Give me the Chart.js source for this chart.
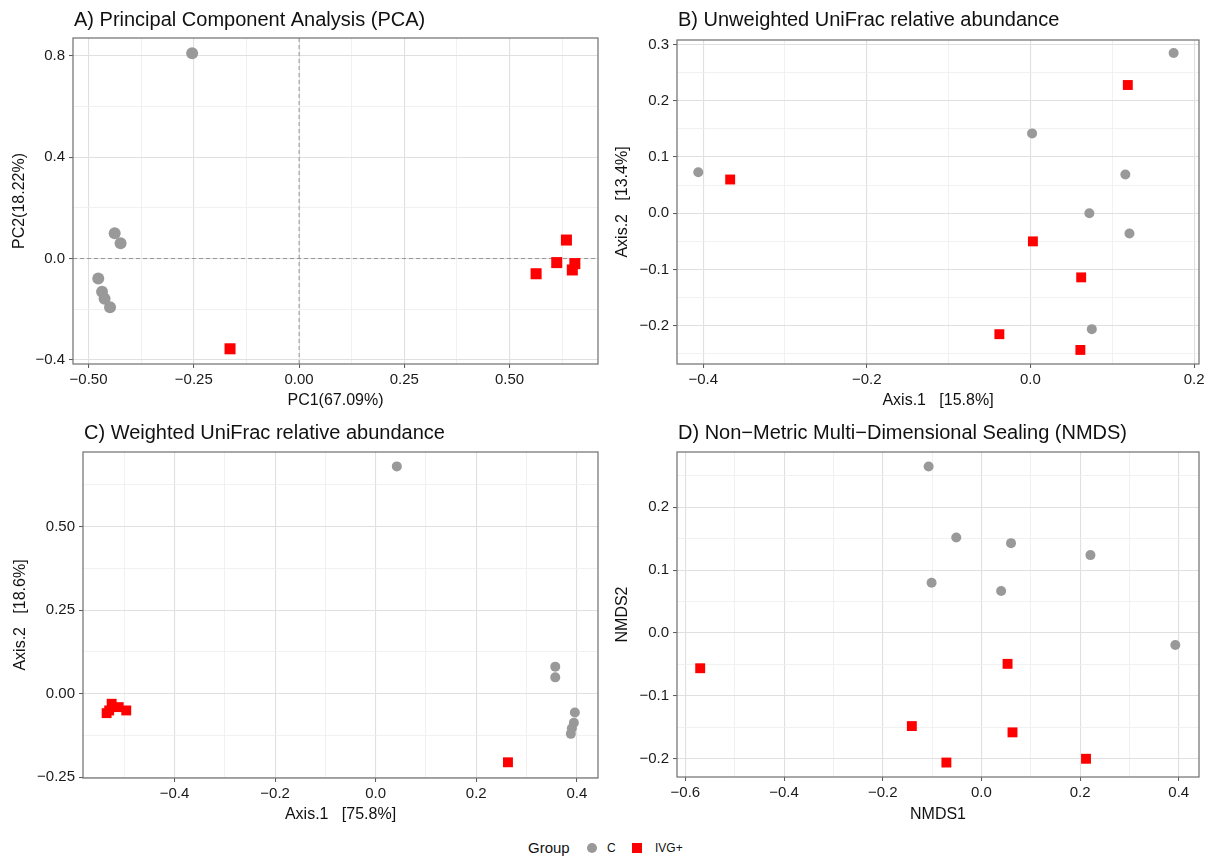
<!DOCTYPE html>
<html>
<head>
<meta charset="utf-8">
<title>Ordination of C and IVG+ samples</title>
<script src="https://cdn.jsdelivr.net/npm/chart.js@4.4.0/dist/chart.umd.min.js"></script>
<style>
  html, body { margin: 0; padding: 0; background: #fff; }
  body { width: 1215px; height: 859px; position: relative; overflow: hidden;
         font-family: "Liberation Sans", Arial, Helvetica, sans-serif; color: #111; }
  canvas { position: absolute; }
  .lg { position: absolute; white-space: nowrap; line-height: 1; }
  .lg-title { font-size: 15px; left: 528px; top: 840px; }
  .lg-text { font-size: 12px; top: 842px; }
  .lg-dot { position: absolute; width: 10px; height: 10px; border-radius: 50%; background: #999; left: 587px; top: 843px; }
  .lg-sq { position: absolute; width: 10px; height: 10px; background: red; left: 632px; top: 843px; }
</style>
</head>
<body>
<canvas id="pca" width="607" height="418" style="left:0;top:0"></canvas>
<canvas id="unweighted" width="608" height="418" style="left:607px;top:0"></canvas>
<canvas id="weighted" width="607" height="418" style="left:0;top:420px"></canvas>
<canvas id="nmds" width="608" height="418" style="left:607px;top:420px"></canvas>

<span class="lg lg-title">Group</span>
<span class="lg-dot"></span>
<span class="lg lg-text" style="left:607px">C</span>
<span class="lg-sq"></span>
<span class="lg lg-text" style="left:655px">IVG+</span>

<script>
/* ---- sample coordinates, [x, y] per sample ---- */

// A) PCA
const pcaC   = [[-0.254, 0.810], [-0.438, 0.100], [-0.424, 0.060], [-0.477, -0.079],
                [-0.468, -0.131], [-0.462, -0.159], [-0.449, -0.192]];
const pcaIVG = [[-0.164, -0.356], [0.635, 0.073], [0.612, -0.016], [0.563, -0.060],
                [0.655, -0.020], [0.649, -0.045]];
const pcaXTicks = [-0.5, -0.25, 0, 0.25, 0.5];
const pcaYTicks = [-0.4, 0, 0.4, 0.8];

// B) unweighted UniFrac
const uwC   = [[0.175, 0.285], [0.002, 0.142], [-0.406, 0.073], [0.116, 0.069],
               [0.072, 0.000], [0.121, -0.036], [0.075, -0.206]];
const uwIVG = [[0.119, 0.228], [-0.367, 0.060], [0.003, -0.050], [0.062, -0.114],
               [-0.038, -0.215], [0.061, -0.243]];
const uwXTicks = [-0.4, -0.2, 0, 0.2];
const uwYTicks = [-0.2, -0.1, 0, 0.1, 0.2, 0.3];

// C) weighted UniFrac
const wC   = [[0.042, 0.680], [0.357, 0.081], [0.357, 0.049], [0.396, -0.056],
              [0.394, -0.087], [0.390, -0.103], [0.388, -0.120]];
const wIVG = [[0.263, -0.205], [-0.535, -0.058], [-0.530, -0.050], [-0.525, -0.030],
              [-0.511, -0.040], [-0.496, -0.050]];
const wXTicks = [-0.4, -0.2, 0, 0.2, 0.4];
const wYTicks = [-0.25, 0, 0.25, 0.5];

// D) NMDS
const nmdsC   = [[-0.107, 0.265], [-0.051, 0.152], [0.060, 0.143], [0.221, 0.124],
                 [-0.101, 0.080], [0.040, 0.067], [0.393, -0.019]];
const nmdsIVG = [[-0.570, -0.056], [0.053, -0.049], [-0.141, -0.148], [0.063, -0.158],
                 [-0.071, -0.206], [0.212, -0.200]];
const nmdsXTicks = [-0.6, -0.4, -0.2, 0, 0.2, 0.4];
const nmdsYTicks = [-0.2, -0.1, 0, 0.1, 0.2];

const FONT = '"Liberation Sans", Arial, Helvetica, sans-serif';
const GREY = '#999999';
const RED = '#ff0000';

function fmt(v, d) {
    const s = v.toFixed(d);
    return v < 0 ? '\u2212' + s.slice(1) : s;
}

// minor grid lines sit halfway between the labelled ones
function minorTicks(major, min, max) {
    const step = major[1] - major[0];
    const out = [];
    for (let i = -1; i < major.length; i++) {
        const v = (i < 0 ? major[0] - step : major[i]) + step / 2;
        if (v > min && v < max) out.push(v);
    }
    return out;
}

function axis(kind, p) {
    const major = p.ticks;
    const isMajor = v => major.some(t => Math.abs(t - v) < 1e-9);
    const all = major.concat(minorTicks(major, p.min, p.max)).sort((a, b) => a - b);
    return {
        type: 'linear',
        position: kind === 'x' ? 'bottom' : 'left',
        min: p.min,
        max: p.max,
        afterBuildTicks: s => { s.ticks = all.map(v => ({ value: v })); },
        afterFit: s => { if (kind === 'x') s.height = p.fit; else s.width = p.fit; },
        border: { display: false },
        grid: {
            color: c => (c.tick && isMajor(c.tick.value)) ? '#e0e0e0' : '#ededed',
            lineWidth: c => (c.tick && isMajor(c.tick.value)) ? 1.1 : 0.8,
            tickLength: 4,
            tickColor: c => (c.tick && isMajor(c.tick.value)) ? '#555' : 'rgba(0,0,0,0)',
            tickWidth: 1
        },
        ticks: {
            autoSkip: false,
            maxRotation: 0,
            padding: kind === 'x' ? 3 : 4,
            color: '#1a1a1a',
            font: { family: FONT, size: 15 },
            callback: v => isMajor(v) ? fmt(v, p.dec) : ''
        },
        title: {
            display: true,
            text: p.title,
            color: '#111',
            font: { family: FONT, size: 16 },
            padding: kind === 'x' ? { top: 0, bottom: p.titlePad } : { top: p.titlePad, bottom: 0 }
        }
    };
}

// panel border all the way round
const framePlugin = {
    id: 'frame',
    afterDraw(chart) {
        const { ctx, chartArea: a } = chart;
        ctx.save();
        ctx.strokeStyle = '#6e6e6e';
        ctx.lineWidth = 1.2;
        ctx.strokeRect(a.left, a.top, a.right - a.left, a.bottom - a.top);
        ctx.restore();
    }
};

// panel heading, left-aligned with the plotting region
const headingPlugin = {
    id: 'heading',
    afterDraw(chart, args, opts) {
        const { ctx, chartArea: a } = chart;
        ctx.save();
        ctx.font = '20px ' + FONT;
        ctx.fillStyle = '#111';
        ctx.textBaseline = 'middle';
        ctx.textAlign = 'left';
        ctx.fillText(opts.text, a.left + 1, opts.y);
        ctx.restore();
    }
};

// dashed reference lines through the origin (PCA only)
const originPlugin = {
    id: 'origin',
    beforeDatasetsDraw(chart) {
        const { ctx, chartArea: a, scales: { x, y } } = chart;
        const px = x.getPixelForValue(0);
        const py = y.getPixelForValue(0);
        ctx.save();
        ctx.strokeStyle = '#8c8c8c';
        ctx.lineWidth = 0.9;
        ctx.setLineDash([4, 3]);
        ctx.beginPath();
        ctx.moveTo(px, a.top); ctx.lineTo(px, a.bottom);
        ctx.moveTo(a.left, py); ctx.lineTo(a.right, py);
        ctx.stroke();
        ctx.restore();
    }
};

const toPoints = arr => arr.map(([x, y]) => ({ x, y }));

function panel(id, p) {
    const canvas = document.getElementById(id);
    const plugins = [framePlugin, headingPlugin];
    if (p.origin) plugins.push(originPlugin);
    return new Chart(canvas, {
        type: 'scatter',
        data: {
            datasets: [{
                label: 'C',
                data: toPoints(p.c),
                pointStyle: 'circle',
                pointRadius: p.dot,
                backgroundColor: GREY,
                borderWidth: 0
            }, {
                label: 'IVG+',
                data: toPoints(p.ivg),
                pointStyle: 'rect',
                pointRadius: p.square,
                backgroundColor: RED,
                borderWidth: 0
            }]
        },
        options: {
            responsive: false,
            animation: false,
            events: [],
            layout: { padding: { top: p.top, right: p.right, left: 0, bottom: 0 } },
            plugins: {
                legend: { display: false },
                tooltip: { enabled: false },
                heading: { text: p.heading, y: p.headingY }
            },
            scales: { x: axis('x', p.x), y: axis('y', p.y) }
        },
        plugins
    });
}

panel('pca', {
    heading: 'A) Principal Component Analysis (PCA)', headingY: 20,
    c: pcaC, ivg: pcaIVG, dot: 6, square: 7.8, origin: true,
    top: 38, right: 9,
    x: { ticks: pcaXTicks, min: -0.537, max: 0.710, dec: 2, title: 'PC1(67.09%)', fit: 54, titlePad: 8 },
    y: { ticks: pcaYTicks, min: -0.416, max: 0.870, dec: 1, title: 'PC2(18.22%)', fit: 73, titlePad: 10 }
});

panel('unweighted', {
    heading: 'B) Unweighted UniFrac relative abundance', headingY: 20,
    c: uwC, ivg: uwIVG, dot: 5, square: 7,
    top: 40, right: 16,
    x: { ticks: uwXTicks, min: -0.432, max: 0.206, dec: 1, title: 'Axis.1   [15.8%]', fit: 54, titlePad: 8 },
    y: { ticks: uwYTicks, min: -0.268, max: 0.308, dec: 1, title: 'Axis.2   [13.4%]', fit: 70, titlePad: 6 }
});

panel('weighted', {
    heading: 'C) Weighted UniFrac relative abundance', headingY: 13,
    c: wC, ivg: wIVG, dot: 5, square: 7,
    top: 32, right: 9,
    x: { ticks: wXTicks, min: -0.582, max: 0.442, dec: 1, title: 'Axis.1   [75.8%]', fit: 60, titlePad: 14 },
    y: { ticks: wYTicks, min: -0.252, max: 0.723, dec: 2, title: 'Axis.2   [18.6%]', fit: 83, titlePad: 11 }
});

panel('nmds', {
    heading: 'D) Non\u2212Metric Multi\u2212Dimensional Sealing (NMDS)', headingY: 13,
    c: nmdsC, ivg: nmdsIVG, dot: 5, square: 7,
    top: 32, right: 16,
    x: { ticks: nmdsXTicks, min: -0.617, max: 0.441, dec: 1, title: 'NMDS1', fit: 61, titlePad: 14 },
    y: { ticks: nmdsYTicks, min: -0.229, max: 0.288, dec: 1, title: 'NMDS2', fit: 70, titlePad: 6 }
});
</script>
</body>
</html>
